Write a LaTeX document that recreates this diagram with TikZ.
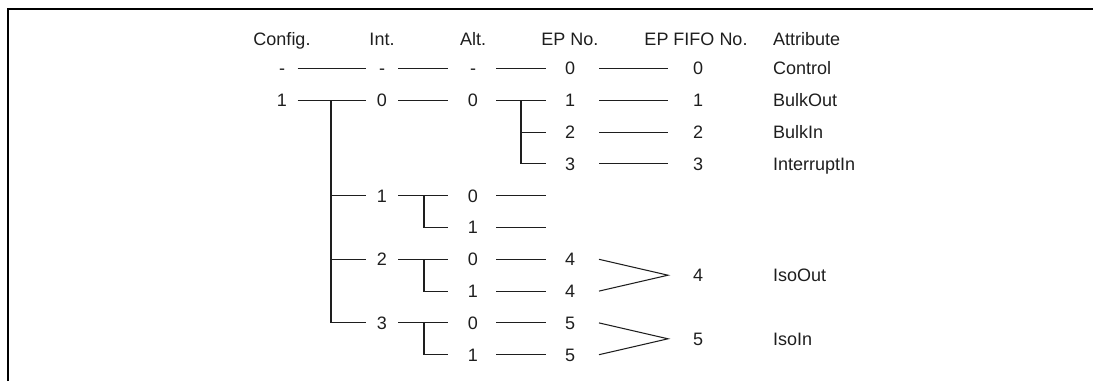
\documentclass[tikz,border=0pt]{standalone}
\usepackage{fontspec}
\setmainfont{Liberation Sans}
\definecolor{ink}{HTML}{1E1E1E}
\begin{document}
\begin{tikzpicture}[x=1pt,y=-1pt,
  lbl/.style={inner sep=0pt, text height=12.9pt, text depth=0pt, font=\fontsize{18}{20}\selectfont, text=ink},
  ln/.style={line width=1.05pt, draw=ink},
  sA/.style={ln, shorten <=15.5pt, shorten >=16pt},
  sB/.style={ln, shorten <=16pt, shorten >=25pt},
  sC/.style={ln, shorten <=23pt, shorten >=24pt},
  sD/.style={ln, shorten <=29pt, shorten >=30pt},
]
\useasboundingbox (0,0) rectangle (1093,381);
\draw[line width=2.2pt, draw=black] (8,381) -- (8,9) -- (1093,9);

% headers
\node[lbl] (hcfg) at (282,39) {Config.};
\node[lbl] (hint) at (382,39) {Int.};
\node[lbl] (halt) at (473,39) {Alt.};
\node[lbl] (hep)  at (570,39) {EP No.};
\node[lbl] (hfifo) at (696,39) {EP FIFO No.};
\node[lbl, anchor=west] (hatt) at (773,39) {Attribute};

% row 0
\node[lbl] (c0) at (282,68.5) {-};
\node[lbl] (i0m) at (382,68.5) {-};
\node[lbl] (a0m) at (473,68.5) {-};
\node[lbl] (e0) at (570,68.5) {0};
\node[lbl] (f0) at (698,68.5) {0};
\node[lbl, anchor=west] (t0) at (773,68.5) {Control};
\draw[sA] (c0.center) -- (i0m.center);
\draw[sB] (i0m.center) -- (a0m.center);
\draw[sC] (a0m.center) -- (e0.center);
\draw[sD] (e0.center) -- (f0.center);

% row 1
\node[lbl] (cfg1) at (282,100.3) {1};
\node[lbl] (int0) at (382,100.3) {0};
\node[lbl] (alt00) at (473,100.3) {0};
\node[lbl] (ep1) at (570,100.3) {1};
\node[lbl] (fifo1) at (698,100.3) {1};
\node[lbl, anchor=west] (t1) at (773,100.3) {BulkOut};
\draw[sA] (cfg1.center) -- (int0.center);
\draw[sB] (int0.center) -- (alt00.center);
\draw[sC] (alt00.center) -- (ep1.center);
\draw[sD] (ep1.center) -- (fifo1.center);

% row 2
\node[lbl] (ep2) at (570,132.1) {2};
\node[lbl] (fifo2) at (698,132.1) {2};
\node[lbl, anchor=west] (t2) at (773,132.1) {BulkIn};
\draw[sD] (ep2.center) -- (fifo2.center);

% row 3
\node[lbl] (ep3) at (570,163.9) {3};
\node[lbl] (fifo3) at (698,163.9) {3};
\node[lbl, anchor=west] (t3) at (773,163.9) {InterruptIn};
\draw[sD] (ep3.center) -- (fifo3.center);

% EP branch under alt 0
\coordinate (eb) at ([xshift=48pt]alt00.center);
\draw[ln] (eb) |- ([xshift=-24pt]ep3.center);
\draw[ln] (eb |- ep2.center) -- ([xshift=-24pt]ep2.center);

% row 4 / 5 : interface 1
\node[lbl] (int1) at (382,195.7) {1};
\node[lbl] (alt10) at (473,195.7) {0};
\node[lbl] (alt11) at (473,227.5) {1};
\draw[sB] (int1.center) -- (alt10.center);
\coordinate (e10) at ([xshift=73pt]alt10.center);
\coordinate (e11) at ([xshift=73pt]alt11.center);
\draw[ln] ([xshift=23pt]alt10.center) -- (e10);
\draw[ln] ([xshift=23pt]alt11.center) -- (e11);
\coordinate (ib1) at ([xshift=42pt]int1.center);
\draw[ln] (ib1) |- ([xshift=-25pt]alt11.center);

% row 6 / 7 : interface 2
\node[lbl] (int2) at (382,259.3) {2};
\node[lbl] (alt20) at (473,259.3) {0};
\node[lbl] (alt21) at (473,291.1) {1};
\node[lbl] (ep4a) at (570,259.3) {4};
\node[lbl] (ep4b) at (570,291.1) {4};
\node[lbl] (fifo4) at (698,275.2) {4};
\node[lbl, anchor=west] (t4) at (773,275.2) {IsoOut};
\draw[sB] (int2.center) -- (alt20.center);
\draw[sC] (alt20.center) -- (ep4a.center);
\draw[sC] (alt21.center) -- (ep4b.center);
\coordinate (ib2) at ([xshift=42pt]int2.center);
\draw[ln] (ib2) |- ([xshift=-25pt]alt21.center);
\draw[ln] ([xshift=29pt]ep4a.center) -- ([xshift=-30pt]fifo4.center) -- ([xshift=29pt]ep4b.center);

% row 8 / 9 : interface 3
\node[lbl] (int3) at (382,322.9) {3};
\node[lbl] (alt30) at (473,322.9) {0};
\node[lbl] (alt31) at (473,354.7) {1};
\node[lbl] (ep5a) at (570,322.9) {5};
\node[lbl] (ep5b) at (570,354.7) {5};
\node[lbl] (fifo5) at (698,338.8) {5};
\node[lbl, anchor=west] (t5) at (773,338.8) {IsoIn};
\draw[sB] (int3.center) -- (alt30.center);
\draw[sC] (alt30.center) -- (ep5a.center);
\draw[sC] (alt31.center) -- (ep5b.center);
\coordinate (ib3) at ([xshift=42pt]int3.center);
\draw[ln] (ib3) |- ([xshift=-25pt]alt31.center);
\draw[ln] ([xshift=29pt]ep5a.center) -- ([xshift=-30pt]fifo5.center) -- ([xshift=29pt]ep5b.center);

% configuration branch
\coordinate (cb) at ([xshift=49pt]cfg1.center);
\draw[ln] (cb) |- ([xshift=-16pt]int3.center);
\draw[ln] (cb |- int1.center) -- ([xshift=-16pt]int1.center);
\draw[ln] (cb |- int2.center) -- ([xshift=-16pt]int2.center);
\end{tikzpicture}
\end{document}
